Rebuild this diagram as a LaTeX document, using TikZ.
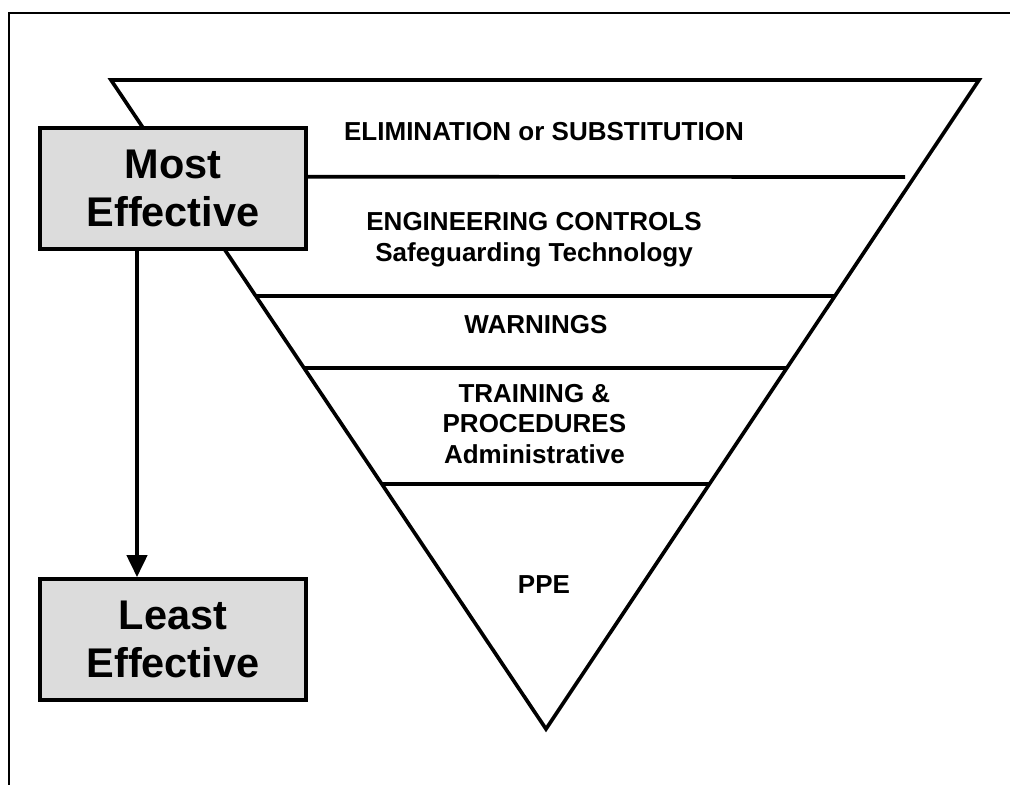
\documentclass[tikz,border=0pt]{standalone}
\usepackage{fontspec}
\setmainfont{Liberation Sans}
\usetikzlibrary{arrows.meta,calc}
\definecolor{boxgray}{HTML}{DCDCDC}
\begin{document}
\begin{tikzpicture}[
  band/.style={line width=2.6pt},
  level/.style={font=\bfseries\fontsize{18.5}{22}\selectfont, align=center},
  effbox/.style={draw, line width=2.6pt, fill=boxgray, minimum width=6.65cm, minimum height=3.025cm,
    font=\bfseries\fontsize{29.5}{34}\selectfont, align=center}]
\useasboundingbox (0,0) rectangle (25.25,19.625);
\draw[line width=1.5pt] (0.225,0)--(0.225,19.3)--(25.25,19.3);
\coordinate (tl) at (2.775,17.625);
\coordinate (tr) at (24.475,17.625);
\coordinate (apex) at (13.65,1.4);
\draw[band, line join=miter] (tl)--(tr)--(apex)--cycle;
\draw[band] ($(tl)!0.149!(apex)$)--(22.625,15.2);
\draw[band] ($(tl)!0.333!(apex)$)--($(tr)!0.333!(apex)$);
\draw[band] ($(tl)!0.444!(apex)$)--($(tr)!0.444!(apex)$);
\draw[band] ($(tl)!0.6225!(apex)$)--($(tr)!0.6225!(apex)$);
\node[level] (elim) at (13.6,16.325) {ELIMINATION or SUBSTITUTION};
\node[level] (eng) at (13.35,13.625) {ENGINEERING CONTROLS\\Safeguarding Technology};
\node[level] (warn) at (13.4,11.5) {WARNINGS};
\node[level] (train) at (13.36,9.025) {TRAINING \&\\PROCEDURES\\Administrative};
\node[level] (ppe) at (13.6,5.0) {PPE};
\node[effbox] (most) at (4.325,14.9125) {Most\\Effective};
\node[effbox] (least) at (4.325,3.6375) {Least\\Effective};
\draw[line width=3pt, -{Triangle[length=0.55cm,width=0.5cm]}] ([xshift=-0.9cm]most.south)--([xshift=-0.9cm]least.north);
\end{tikzpicture}
\end{document}
